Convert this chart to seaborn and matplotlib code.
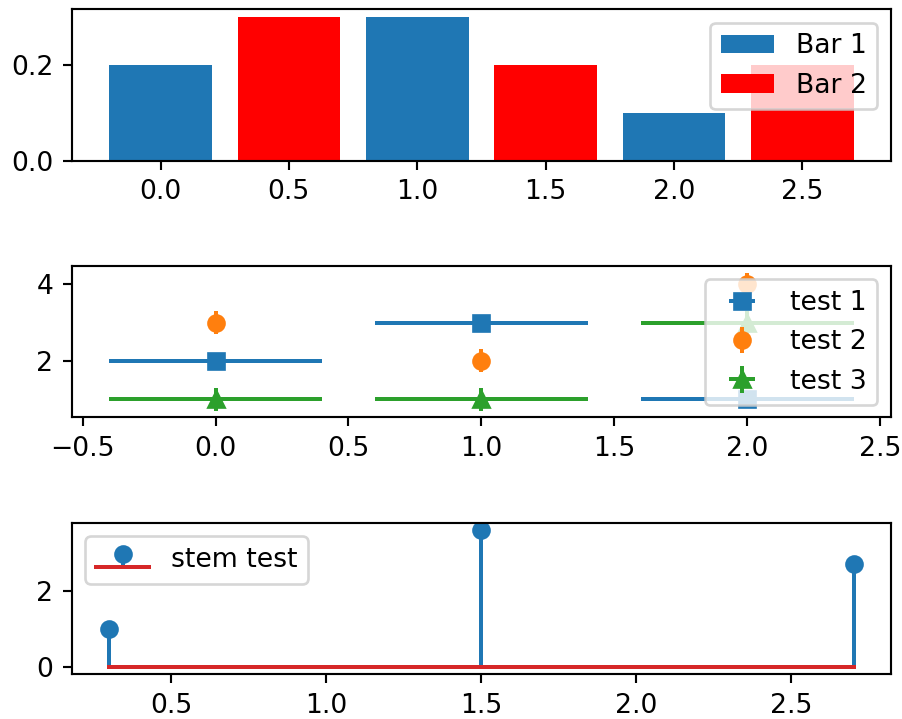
import seaborn as sns
import numpy as np
import matplotlib.pyplot as plt

# data
bar1_x = [0, 1, 2]
bar1_y = [0.2, 0.3, 0.1]
bar2_x = [0.5, 1.5, 2.5]
bar2_y = [0.3, 0.2, 0.2]

err_x = [0, 1, 2]
test1_y = [2, 3, 1]
test2_y = [3, 2, 4]
test3_y = [1, 1, 3]
xerr = 0.4
yerr = 0.3

stem_x = [0.3, 1.5, 2.7]
stem_y = [1, 3.6, 2.7]

DPI = 192
fig, axs = plt.subplots(3, 1, figsize=(902 / DPI, 719 / DPI), dpi=DPI)
fig.subplots_adjust(left=0.0798, right=0.9875, top=0.987, bottom=0.0622, hspace=0.697)
top_ax, middle_ax, bottom_ax = axs

# bars
sns.barplot(x=bar1_x, y=bar1_y, native_scale=True, orient="x", width=0.4,
            color="C0", saturation=1, label="Bar 1", ax=top_ax)
sns.barplot(x=bar2_x, y=bar2_y, native_scale=True, orient="x", width=0.4,
            color="red", saturation=1, label="Bar 2", ax=top_ax)
top_ax.set_xlabel("")
top_ax.set_ylabel("")
top_ax.legend(loc="upper right")

# error bars
middle_ax.errorbar(err_x, test1_y, xerr=xerr, fmt="s", label="test 1")
middle_ax.errorbar(err_x, test2_y, yerr=yerr, fmt="o", label="test 2")
middle_ax.errorbar(err_x, test3_y, xerr=xerr, yerr=yerr, fmt="^", label="test 3")
middle_ax.legend(loc="upper right")

# stem
bottom_ax.stem(stem_x, stem_y, label="stem test")
bottom_ax.legend(loc="upper left")

fig.savefig("out.png", dpi=DPI)
